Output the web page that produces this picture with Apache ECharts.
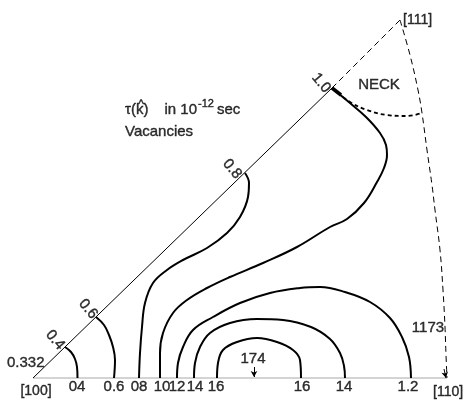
<!DOCTYPE html>
<html>
<head>
<meta charset="utf-8">
<script src="https://cdn.jsdelivr.net/npm/echarts@6/dist/echarts.min.js"></script>
<style>
  html, body { margin: 0; padding: 0; background: #fff; }
  #chart { width: 464px; height: 402px; }
</style>
</head>
<body>
<div id="chart"></div>
<script>
// Stereographic coordinates (units of 0.001) inside the [100]-[110]-[111] triangle.
const corner100 = [0, 0];
const corner110 = [414, 0];
const corner111 = [367, 358];
const neckPoint = [299, 290];

// [110]-[111] zone boundary (great-circle arc)
const zoneArc = [[367, 358], [377, 323], [385, 288], [389, 265], [394, 228], [399, 193],
                 [402, 168], [407, 128], [410, 88], [412, 51], [413, 23], [414, 0]];

// Neck boundary
const neckEdge = [[299, 290], [317, 276], [334, 268], [354, 263], [374, 262], [389, 265]];

// Lifetime contours tau(k) in 1e-12 s
const tau04 = [[32, 31], [38, 26], [42, 19], [44, 11], [44.5, 0]];
const tau06 = [[63, 61], [71, 53], [76, 43], [80, 31], [82, 18], [81, 0]];
const tau08 = [[212, 205], [216, 195], [215, 181], [207, 161], [194, 145], [174, 130], [150, 118],
               [134, 108], [120, 95], [112, 75], [109, 51], [107, 25], [106, 0]];
const tau10 = [[299, 290], [305, 285], [317, 275], [333, 261], [347, 245], [353, 233], [354, 223],
               [351, 210], [344, 196], [331, 175], [314, 159], [297, 151], [264, 131], [230, 115],
               [197, 101], [174, 90], [154, 78], [140, 65], [130, 45], [127, 25], [127, 0]];
const tau12 = [[144, 0], [145, 15], [150, 31], [160, 48], [180, 61], [207, 75], [237, 85], [267, 90],
               [287, 91], [312, 86], [337, 76], [357, 60], [369, 41], [376, 21], [378, 0]];
const tau14 = [[161, 0], [162, 15], [167, 31], [177, 45], [197, 55], [224, 59], [250, 58], [278, 51],
               [297, 39], [307, 25], [311, 12], [312, 0]];
const tau16 = [[184, 0], [185, 15], [190, 28], [204, 36], [224, 40], [244, 36], [260, 28], [267, 18],
               [268, 0]];

// Labels where contours meet the [100]-[110] edge
const edgeLabelText = ['04', '0.6', '08', '10', '12', '14', '16', '16', '14', '1.2'];
const edgeLabelX = [44, 81, 106, 129, 144, 162, 183, 269, 311, 375];

// Labels where contours meet the [100]-[111] edge
const diagLabelText = ['0.4', '0.6', '0.8', '1.0'];
const diagLabelPos = [[22, 38], [55, 69], [199, 209], [288, 295]];

// Arrows: maximum of tau on the edge, and the [110] end of the zone arc
const maxArrow = [[221, 11], [221, 1]];
const endArrow = [[411, 9], [413, 0]];

const FONT = "'Liberation Sans', Arial, sans-serif";
const INK = '#000';

function line(data, width, dash, extra) {
  return Object.assign({
    type: 'line', data: data, showSymbol: false, symbol: 'none', silent: true,
    lineStyle: { color: INK, width: width, type: dash || 'solid' }
  }, extra || {});
}

function arrow(pts) {
  return {
    type: 'line', data: [], silent: true,
    markLine: {
      silent: true, symbol: ['none', 'arrow'], symbolSize: [5, 6], label: { show: false },
      lineStyle: { color: INK, width: 1, type: 'solid' },
      data: [[{ coord: pts[0] }, { coord: pts[1] }]]
    }
  };
}

function textPoint(value, text, opts) {
  return {
    value: value,
    label: Object.assign({
      show: true, formatter: text, position: 'inside', color: INK,
      fontFamily: FONT, fontSize: 15, textBorderColor: INK, textBorderWidth: 0.4
    }, opts || {})
  };
}

const contours = [tau04, tau06, tau08, tau10, tau12, tau14, tau16];

const labelData = [];
edgeLabelText.forEach((t, i) => labelData.push(textPoint([edgeLabelX[i], -9], t)));
diagLabelText.forEach((t, i) => labelData.push(textPoint(diagLabelPos[i], t, { rotate: -50 })));
labelData.push(textPoint([3, -13], '[100]', { fontSize: 14 }));
labelData.push(textPoint([400, -14], '[110]', { align: 'left', fontSize: 14 }));
labelData.push(textPoint([370, 358], '[111]', { align: 'left', fontSize: 14 }));
labelData.push(textPoint([-26, 15], '0.332', { align: 'left' }));
labelData.push(textPoint([346, 293], 'NECK'));
labelData.push(textPoint([395, 50], '1173'));
labelData.push(textPoint([220, 19], '174'));

// Heading: tau(k-hat) in 10^-12 sec / Vacancies
labelData.push(textPoint([92, 268], 'τ(k)', { align: 'left' }));
labelData.push(textPoint([108, 273], '^', { fontSize: 12 }));
labelData.push(textPoint([164, 268], 'in 10', { align: 'right' }));
labelData.push(textPoint([165, 274], '-12', { align: 'left', fontSize: 11 }));
labelData.push(textPoint([184, 268], 'sec', { align: 'left' }));
labelData.push(textPoint([92, 246], 'Vacancies', { align: 'left' }));

const series = [
  line([corner100, corner110], 1, 'solid', { lineStyle: { color: '#a8a8a8', width: 1 } }),
  line([corner100, neckPoint], 1),
  line([neckPoint, corner111], 1, [6, 4]),
  line(zoneArc, 1, [6, 4], { smooth: 0.4 }),
  line(neckEdge, 1.8, [4, 3], { smooth: 0.4 }),
  line([neckPoint, [308, 283]], 3.5)
];
contours.forEach(c => series.push(line(c, 2, 'solid', { smooth: 0.4 })));
series.push(arrow(maxArrow));
series.push(arrow(endArrow));
series.push({ type: 'scatter', symbolSize: 0, silent: true, data: labelData, z: 5 });

const chart = echarts.init(document.getElementById('chart'), null, { renderer: 'canvas' });
chart.setOption({
  animation: false,
  backgroundColor: '#fff',
  grid: { left: 0, right: 0, top: 0, bottom: 0 },
  xAxis: { type: 'value', min: -33, max: 431, show: false },
  yAxis: { type: 'value', min: -24, max: 378, show: false },
  series: series
});
</script>
</body>
</html>
